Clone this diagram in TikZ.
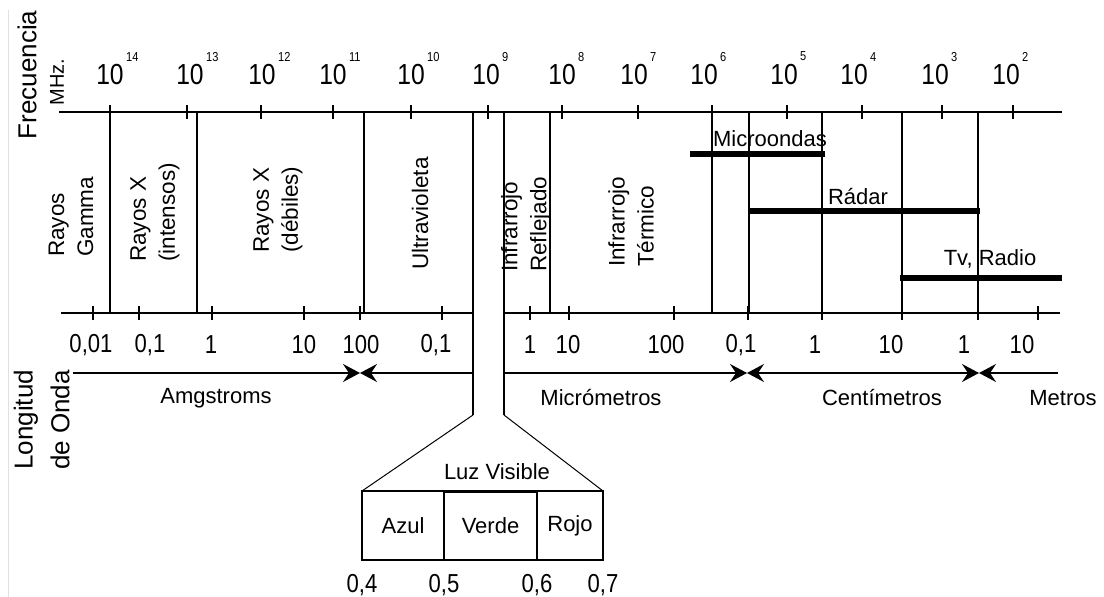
\documentclass[tikz,border=0pt]{standalone}
\usepackage{fontspec}
\setmainfont{Liberation Sans}
\newfontfamily\digitfont[FakeStretch=0.85]{Liberation Sans}
\usetikzlibrary{arrows.meta, positioning}

\begin{document}
\begin{tikzpicture}[x=1pt, y=-1pt,
    >={Stealth[length=17pt, width=18pt, inset=6pt]},
    rule/.style={line width=1.8pt},
    bandline/.style={line width=1.6pt},
    scaletick/.style={line width=1.6pt},
    wave/.style={line width=1.6pt},
    bar/.style={line width=6pt},
    band/.style={rotate=90, anchor=west, align=left, inner sep=0pt, font=\fontsize{22.5}{29}\selectfont},
    txt/.style={inner sep=0pt, font=\fontsize{22}{26}\selectfont},
    pow/.style={inner sep=0pt, font=\digitfont\fontsize{29}{29}\selectfont},
    expo/.style={inner sep=0pt, anchor=west, font=\digitfont\fontsize{13}{13}\selectfont},
    num/.style={inner sep=0pt, font=\digitfont\fontsize{26}{26}\selectfont},
    side/.style={rotate=90, inner sep=0pt, font=\fontsize{26}{26}\selectfont},
    colour/.style={draw, line width=1.4pt, minimum height=69pt, inner sep=0pt, outer sep=0pt, font=\fontsize{22}{26}\selectfont}]

    \useasboundingbox (0,0) rectangle (1104,597);
    \draw[black!12, line width=1pt] (8,10) -- (8,597); % scan edge

    % Axis titles
    \node[side] (freq) at (27,75) {Frecuencia};
    \node[side, font=\fontsize{20}{20}\selectfont] (mhz) at (57,82) {MHz.};
    \node[side, anchor=west] (longi) at (26,470) {Longitud};
    \node[side, anchor=west] (onda) at (60,470) {de Onda};

    % Frequency scale
    \draw[rule] (59,112) -- (1062,112);
    \draw[scaletick] (110,105) -- ++(0,14) (187,105) -- ++(0,14) (261,105) -- ++(0,14)
        (333,105) -- ++(0,14) (411,105) -- ++(0,14) (488,105) -- ++(0,14)
        (562,105) -- ++(0,14) (638,105) -- ++(0,14) (712,105) -- ++(0,14)
        (787,105) -- ++(0,14) (862,105) -- ++(0,14) (942,105) -- ++(0,14)
        (1013,105) -- ++(0,14);

    \node[pow] (p14) at (110,75) {10};
    \node[expo] (e14) at ([xshift=2pt, yshift=8pt]p14.north east) {14};
    \node[pow] (p13) at (190,75) {10};
    \node[expo] (e13) at ([xshift=2pt, yshift=8pt]p13.north east) {13};
    \node[pow] (p12) at (262,75) {10};
    \node[expo] (e12) at ([xshift=2pt, yshift=8pt]p12.north east) {12};
    \node[pow] (p11) at (333,75) {10};
    \node[expo] (e11) at ([xshift=2pt, yshift=8pt]p11.north east) {11};
    \node[pow] (p10) at (411,75) {10};
    \node[expo] (e10) at ([xshift=2pt, yshift=8pt]p10.north east) {10};
    \node[pow] (p9) at (486,75) {10};
    \node[expo] (e9) at ([xshift=2pt, yshift=8pt]p9.north east) {9};
    \node[pow] (p8) at (562,75) {10};
    \node[expo] (e8) at ([xshift=2pt, yshift=8pt]p8.north east) {8};
    \node[pow] (p7) at (634,75) {10};
    \node[expo] (e7) at ([xshift=2pt, yshift=8pt]p7.north east) {7};
    \node[pow] (p6) at (704,75) {10};
    \node[expo] (e6) at ([xshift=2pt, yshift=8pt]p6.north east) {6};
    \node[pow] (p5) at (784,75) {10};
    \node[expo] (e5) at ([xshift=2pt, yshift=8pt]p5.north east) {5};
    \node[pow] (p4) at (854,75) {10};
    \node[expo] (e4) at ([xshift=2pt, yshift=8pt]p4.north east) {4};
    \node[pow] (p3) at (935,75) {10};
    \node[expo] (e3) at ([xshift=2pt, yshift=8pt]p3.north east) {3};
    \node[pow] (p2) at (1006,75) {10};
    \node[expo] (e2) at ([xshift=2pt, yshift=8pt]p2.north east) {2};

    % Band limits
    \draw[bandline] (110,112) -- (110,313) (197,112) -- (197,313) (364,112) -- (364,313)
        (550,112) -- (550,313) (712,112) -- (712,313) (749,112) -- (749,313)
        (822,112) -- (822,313) (902,112) -- (902,313) (978,112) -- (978,313);
    \coordinate (gapbl) at (473,415);
    \coordinate (gapbr) at (504,415);
    \draw[bandline] (473,112) -- (gapbl);
    \draw[bandline] (504,112) -- (gapbr);

    \node[band] (gamma) at (71,257) {Rayos\\Gamma};
    \node[band] (xhard) at (155,262) {Rayos X\\(intensos)};
    \node[band] (xsoft) at (278,253) {Rayos X\\(débiles)};
    \node[band] (uv) at (420,270) {Ultravioleta};
    \node[band] (irref) at (526,272) {Infrarrojo\\Reflejado};
    \node[band] (irterm) at (631,267) {Infrarrojo\\Térmico};

    % Radio bars
    \draw[bar] (690,154) -- (825,154);
    \node[txt] (micro) at (770,139) {Microondas};
    \draw[bar] (748,211) -- (980,211);
    \node[txt] (radar) at (858,197) {Rádar};
    \draw[bar] (900,278) -- (1062,278);
    \node[txt] (tvradio) at (990,259) {Tv, Radio};

    % Wavelength scale
    \draw[rule] (61,313) -- (473,313) (504,313) -- (1060,313);
    \draw[scaletick] (93,306) -- ++(0,14) (139,306) -- ++(0,14) (212,306) -- ++(0,14)
        (304,306) -- ++(0,14) (360,306) -- ++(0,14) (442,306) -- ++(0,14)
        (530,306) -- ++(0,14) (569,306) -- ++(0,14) (674,306) -- ++(0,14)
        (748,306) -- ++(0,14) (822,306) -- ++(0,14) (902,306) -- ++(0,14)
        (978,306) -- ++(0,14) (1038,306) -- ++(0,14);

    \node[num] (l1) at (91,345) {0,01};
    \node[num] (l2) at (150,345) {0,1};
    \node[num] (l3) at (211,345) {1};
    \node[num] (l4) at (304,345) {10};
    \node[num] (l5) at (361,345) {100};
    \node[num] (l6) at (436,345) {0,1};
    \node[num] (l7) at (530,345) {1};
    \node[num] (l8) at (568,345) {10};
    \node[num] (l9) at (666,345) {100};
    \node[num] (l10) at (741,345) {0,1};
    \node[num] (l11) at (815,345) {1};
    \node[num] (l12) at (891,345) {10};
    \node[num] (l13) at (964,345) {1};
    \node[num] (l14) at (1022,345) {10};

    \coordinate (w0) at (73,373);
    \coordinate (ang) at (360,373);
    \coordinate (gl) at (473,373);
    \coordinate (gr) at (504,373);
    \coordinate (mic) at (747,373);
    \coordinate (cen) at (979,373);
    \coordinate (w1) at (1058,373);
    \draw[wave, ->] (w0) -- (ang);
    \draw[wave, <-] (ang) -- (gl);
    \draw[wave, ->] (gr) -- (mic);
    \draw[wave, <->] (mic) -- (cen);
    \draw[wave, <-] (cen) -- (w1);

    \node[txt] (uang) at (216,398) {Amgstroms};
    \node[txt] (umic) at (601,398) {Micrómetros};
    \node[txt] (ucen) at (882,398) {Centímetros};
    \node[txt] (umet) at (1063,398) {Metros};

    % Visible light
    \node[colour, minimum width=82pt] (azul) at (403,525.5) {Azul};
    \node[colour, minimum width=93pt, right=0pt of azul] (verde) {Verde};
    \node[colour, minimum width=66pt, right=0pt of verde] (rojo) {Rojo};
    \draw[line width=3pt] (verde.north west) -- (verde.north east);
    \node[txt] (luz) at (497,472) {Luz Visible};
    \draw[line width=1pt] (gapbl) -- (azul.north west);
    \draw[line width=1pt] (gapbr) -- (rojo.north east);

    \node[num, below=14pt of azul.south west] (v4) {0,4};
    \node[num, below=14pt of verde.south west] (v5) {0,5};
    \node[num, below=14pt of rojo.south west] (v6) {0,6};
    \node[num, below=14pt of rojo.south east] (v7) {0,7};
\end{tikzpicture}
\end{document}
